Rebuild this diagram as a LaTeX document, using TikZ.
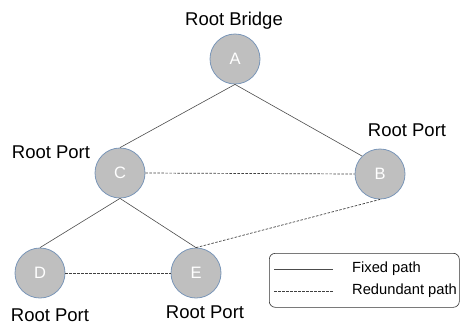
\documentclass[tikz,border=0pt]{standalone}
\usepackage{fontspec}
\setmainfont{Liberation Sans}
\begin{document}
\begin{tikzpicture}[x=1pt,y=-1pt,
  sw/.style={circle,draw=edgeblue,line width=0.8pt,fill=nodegray,minimum size=50pt,inner sep=0pt,text=white,font=\fontsize{16.5}{18}\selectfont},
  lab/.style={font=\fontsize{18.5}{21}\selectfont,inner sep=0pt},
  fixed/.style={draw=black!70,line width=0.6pt},
  redund/.style={draw=black!75,line width=0.7pt,dash pattern=on 2.5pt off 1.5pt},
  legtext/.style={font=\fontsize{14.7}{17}\selectfont,inner sep=0pt,anchor=west}]
\definecolor{nodegray}{HTML}{BFBFBF}
\definecolor{edgeblue}{HTML}{7A96B8}
\useasboundingbox (0,0) rectangle (460,325);
\node[sw] (A) at (235,59) {A};
\node[sw] (C) at (120,173) {C};
\node[sw] (B) at (380,174) {B};
\node[sw] (D) at (40,273) {D};
\node[sw] (E) at (196,273) {E};
\node[lab] (lA) at (234,21) {Root Bridge};
\node[lab] (lC) at (51,152) {Root Port};
\node[lab] (lB) at (407,130) {Root Port};
\node[lab] (lD) at (50,315) {Root Port};
\node[lab] (lE) at (205,312) {Root Port};
\draw[fixed] (A.south) -- (C.north);
\draw[fixed] (A.south) -- (B.north west);
\draw[fixed] (C.south) -- (D.north);
\draw[fixed] (C.south) -- (E.north);
\draw[redund] (C.east) -- (B.west);
\draw[redund] (D.east) -- (E.west);
\draw[redund] (E.north) -- (B.south);
\node[draw=black!80,line width=0.6pt,rounded corners=6pt,minimum width=190pt,minimum height=54pt,anchor=north west] (leg) at (269,253) {};
\coordinate (f1) at (274,269);
\coordinate (f2) at (333,269);
\coordinate (r1) at (274,291);
\coordinate (r2) at (333,291);
\draw[fixed] (f1) -- (f2);
\draw[redund] (r1) -- (r2);
\node[legtext] (tf) at (352,269) {Fixed path};
\node[legtext] (tr) at (352,291) {Redundant path};
\end{tikzpicture}
\end{document}
